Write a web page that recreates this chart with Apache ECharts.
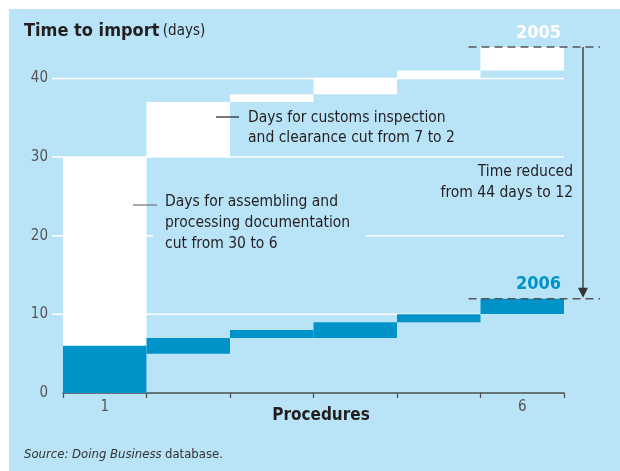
<!DOCTYPE html>
<html>
<head>
<meta charset="utf-8">
<script src="https://cdn.jsdelivr.net/npm/echarts@6/dist/echarts.min.js"></script>
<style>
  html, body { margin: 0; padding: 0; background: #ffffff; }
  #chart { width: 620px; height: 471px; }
</style>
</head>
<body>
<div id="chart"></div>
<script>
// Procedures along the x axis and the labels shown under them
const procedures = ['1', '2', '3', '4', '5', '6'];
const tickLabels = ['1', '', '', '', '', '6'];

// Cumulative days: each procedure starts and ends at these values
const start2005 = [0, 30, 37, 38, 40, 41];
const end2005 = [30, 37, 38, 40, 41, 44];
const start2006 = [0, 5, 7, 7, 9, 10];
const end2006 = [6, 7, 8, 9, 10, 12];

// Totals for each year, marked with dashed lines
const years = ['2005', '2006'];
const totals = [44, 12];

// Value axis ticks
const yTicks = [0, 10, 20, 30, 40];
const gridValues = [10, 20, 30, 40];

const PANEL = '#b9e4f8';
const BLUE = '#0093c9';
const INK = '#231f20';
const GREY = '#4d4d4d';
const FONT = '"DejaVu Sans Condensed", "Liberation Sans Narrow", sans-serif';

const chart = echarts.init(document.getElementById('chart'), null, { renderer: 'canvas' });

function stepItem(fill) {
  return function (params, api) {
    const i = api.value(0);
    const p0 = api.coord([i, api.value(1)]);
    const p1 = api.coord([i, api.value(2)]);
    const w = api.size([1, 0])[0];
    return {
      type: 'rect',
      shape: { x: p0[0] - w / 2, y: p1[1], width: w, height: p0[1] - p1[1] },
      style: { fill: fill }
    };
  };
}

const option = {
  backgroundColor: '#ffffff',
  animation: false,
  textStyle: { fontFamily: FONT },
  grid: { left: 63, right: 56, top: 47, bottom: 78 },
  xAxis: {
    type: 'category',
    data: procedures,
    boundaryGap: true,
    axisLine: { show: true, lineStyle: { color: GREY, width: 1.5 } },
    axisTick: { show: true, length: 5, lineStyle: { color: GREY, width: 1.2 } },
    axisLabel: {
      formatter: (v, i) => tickLabels[i],
      color: '#555555', fontSize: 15, margin: 7, fontFamily: FONT
    },
    splitLine: { show: false }
  },
  yAxis: {
    type: 'value',
    min: 0,
    max: 44,
    interval: 10,
    axisLine: { show: false },
    axisTick: { show: false },
    splitLine: { show: false },
    axisLabel: {
      formatter: v => (yTicks.indexOf(v) >= 0 ? String(v) : ''),
      color: '#555555', fontSize: 15, margin: 15, fontFamily: FONT
    }
  },
  series: [
    {
      // white gridlines, running a little past the left edge of the plot
      type: 'custom',
      z: 1,
      silent: true,
      encode: { x: 0, y: 1 },
      data: gridValues.map(v => [0, v]),
      renderItem: function (params, api) {
        const y = api.coord([0, api.value(1)])[1];
        const cs = params.coordSys;
        return {
          type: 'line',
          shape: { x1: cs.x - 11, y1: y, x2: cs.x + cs.width, y2: y },
          style: { stroke: '#ffffff', lineWidth: 1.5 }
        };
      }
    },
    {
      name: '2005',
      type: 'custom',
      z: 2,
      encode: { x: 0, y: [1, 2] },
      data: procedures.map((p, i) => [i, start2005[i], end2005[i]]),
      renderItem: stepItem('#ffffff')
    },
    {
      name: '2006',
      type: 'custom',
      z: 3,
      encode: { x: 0, y: [1, 2] },
      data: procedures.map((p, i) => [i, start2006[i], end2006[i]]),
      renderItem: stepItem(BLUE)
    },
    {
      // dashed total lines with year labels
      type: 'custom',
      z: 4,
      silent: true,
      encode: { x: 0, y: 1 },
      data: totals.map((t, k) => [procedures.length - 1, t, k]),
      renderItem: function (params, api) {
        const k = api.value(2);
        const c = api.coord([api.value(0), api.value(1)]);
        const w = api.size([1, 0])[0];
        const cs = params.coordSys;
        const right = cs.x + cs.width;
        return {
          type: 'group',
          children: [
            {
              type: 'line',
              shape: { x1: c[0] - w / 2 - 12, y1: c[1], x2: right + 36, y2: c[1] },
              style: { stroke: '#555555', lineWidth: 1.5, lineDash: [8, 5] }
            },
            {
              type: 'text',
              style: {
                text: years[k],
                x: right - 3, y: c[1] - 5,
                align: 'right', verticalAlign: 'bottom',
                fill: k === 0 ? '#ffffff' : BLUE,
                font: 'bold 18px ' + FONT
              }
            }
          ]
        };
      }
    },
    {
      // arrow from the 2005 total down to the 2006 total
      type: 'custom',
      z: 4,
      silent: true,
      encode: { x: 0, y: 1 },
      data: [[procedures.length - 1, totals[0], totals[1]]],
      renderItem: function (params, api) {
        const cs = params.coordSys;
        const x = cs.x + cs.width + 19;
        const yTop = api.coord([api.value(0), api.value(1)])[1];
        const yBot = api.coord([api.value(0), api.value(2)])[1];
        return {
          type: 'group',
          children: [
            {
              type: 'line',
              shape: { x1: x, y1: yTop, x2: x, y2: yBot - 8 },
              style: { stroke: GREY, lineWidth: 1.6 }
            },
            {
              type: 'polygon',
              shape: { points: [[x - 5, yBot - 11], [x + 5, yBot - 11], [x, yBot - 1]] },
              style: { fill: '#333333' }
            }
          ]
        };
      }
    }
  ],
  graphic: [
    {
      type: 'rect', z: -10, silent: true,
      shape: { x: 9, y: 9, width: 611, height: 462 },
      style: { fill: PANEL }
    },
    {
      type: 'text', z: 100, x: 24, y: 31,
      style: {
        text: '{b|Time to import} {r|(days)}',
        verticalAlign: 'middle',
        rich: {
          b: { font: 'bold 18px ' + FONT, fill: INK },
          r: { font: '15px ' + FONT, fill: INK }
        }
      }
    },
    {
      type: 'line', z: 100,
      shape: { x1: 216, y1: 117, x2: 239, y2: 117 },
      style: { stroke: INK, lineWidth: 1.2 }
    },
    {
      type: 'text', z: 100, x: 248, y: 108,
      style: {
        text: 'Days for customs inspection\nand clearance cut from 7 to 2',
        font: '15.5px ' + FONT, fill: INK, lineHeight: 20
      }
    },
    {
      type: 'text', z: 99, x: 153, y: 191,
      style: {
        text: 'Days for assembling and\nprocessing documentation\ncut from 30 to 6',
        font: '15.5px ' + FONT, fill: INK, lineHeight: 21,
        backgroundColor: PANEL,
        padding: [0, 16, 0, 12]
      }
    },
    {
      type: 'line', z: 100,
      shape: { x1: 133, y1: 205, x2: 157, y2: 205 },
      style: { stroke: '#6d6e71', lineWidth: 1.2 }
    },
    {
      type: 'text', z: 100, x: 573, y: 161,
      style: {
        text: 'Time reduced\nfrom 44 days to 12',
        font: '15.5px ' + FONT, fill: INK, lineHeight: 21, align: 'right'
      }
    },
    {
      type: 'text', z: 100, x: 321, y: 416,
      style: {
        text: 'Procedures', font: 'bold 17px ' + FONT, fill: INK,
        align: 'center', verticalAlign: 'middle'
      }
    },
    {
      type: 'text', z: 100, x: 24, y: 455,
      style: {
        text: '{i|Source: Doing Business} {r|database.}',
        verticalAlign: 'middle',
        rich: {
          i: { font: 'italic 13px ' + FONT, fill: '#333333' },
          r: { font: '13px ' + FONT, fill: '#333333' }
        }
      }
    }
  ]
};

chart.setOption(option);
</script>
</body>
</html>
